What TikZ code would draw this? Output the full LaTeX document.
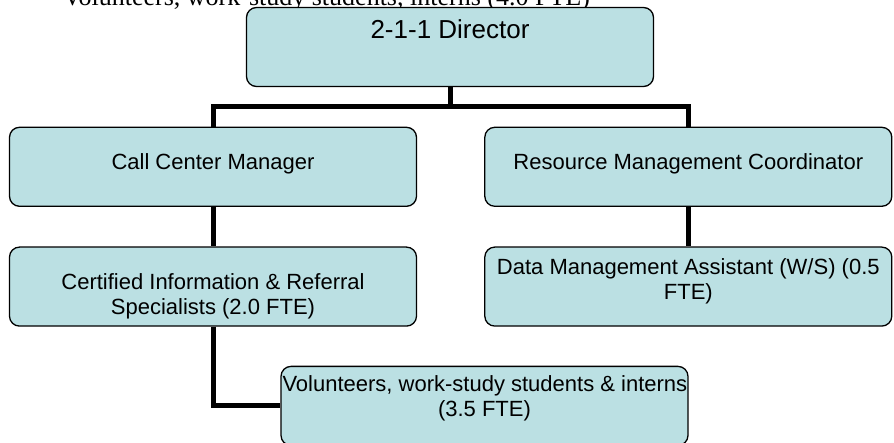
\documentclass[tikz,border=0pt]{standalone}
\usepackage{fontspec}
\setmainfont{Liberation Serif}
\newfontfamily\boxfont{Liberation Sans}
\usepackage{xcolor}
\usetikzlibrary{positioning}

\definecolor{boxfill}{RGB}{187,224,227}

% text block held near the top of a box
\newcommand{\boxtext}[2]{\parbox[c][79pt][t]{404pt}{\centering\vspace*{#1}#2}}

\begin{document}
\begin{tikzpicture}[
    x=1pt, y=-1pt,
    node distance=39.5pt,
    orgbox/.style={
        rectangle,
        rounded corners=10pt,
        draw,
        line width=1.3pt,
        fill=boxfill,
        inner sep=0pt,
        minimum width=407pt,
        minimum height=79pt,
        font=\boxfont\fontsize{22}{25.5}\selectfont
    },
    link/.style={line width=5pt}
]
\useasboundingbox (0,0) rectangle (894,443);

\node[anchor=base west, inner sep=0pt, font=\fontsize{26}{30}\selectfont] (note) at (63,6)
    {Volunteers, work-study students, interns (4.0 FTE)};

\node[orgbox, font=\boxfont\fontsize{26}{30}\selectfont] (director) at (450,47)
    {\boxtext{12pt}{2-1-1 Director}};

\node[orgbox, below=of director, xshift=-237pt] (callcenter)
    {\boxtext{25.8pt}{Call Center Manager}};

\node[orgbox, right=67pt of callcenter] (resource)
    {\boxtext{25.8pt}{Resource Management Coordinator}};

\node[orgbox, below=of callcenter] (specialists)
    {\boxtext{26.4pt}{Certified Information \& Referral\\Specialists (2.0 FTE)}};

\node[orgbox, below=of resource] (dataasst)
    {\boxtext{11.4pt}{\mbox{Data Management Assistant (W/S) (0.5}\\FTE)}};

\node[orgbox, below=39pt of specialists, xshift=271.5pt] (volunteers)
    {\boxtext{9pt}{\mbox{Volunteers, work-study students \& interns}\\(3.5 FTE)}};

\coordinate (fork) at ([yshift=-19.5pt]director.south);

\draw[link] (director.south) -- (fork);
\draw[link] (fork) -| (callcenter.north);
\draw[link] (fork) -| (resource.north);
\draw[link] (callcenter) -- (specialists);
\draw[link] (resource) -- (dataasst);
\draw[link] (specialists.south) |- (volunteers.west);

\end{tikzpicture}
\end{document}
